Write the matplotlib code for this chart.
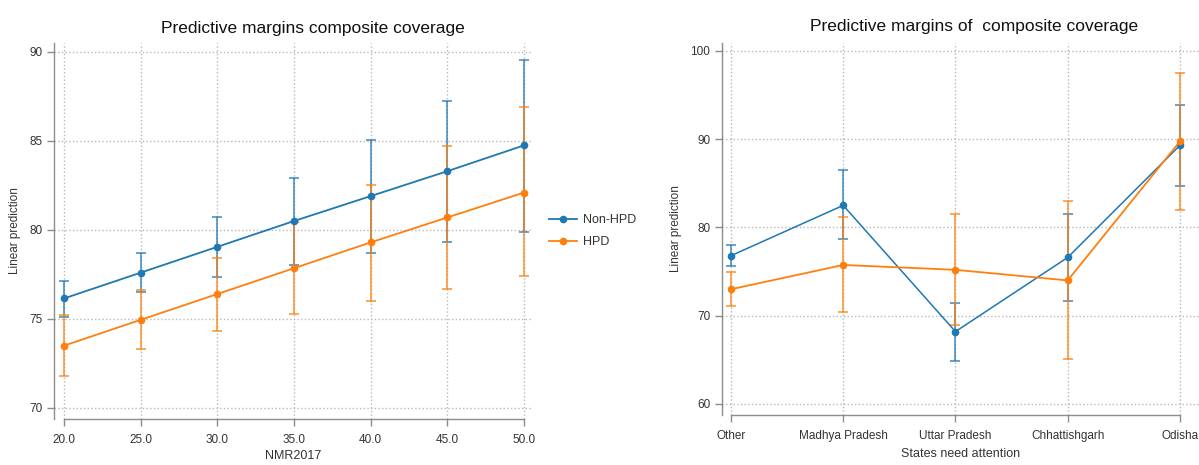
import numpy as np
from matplotlib import pyplot as plt

plt.rcParams['font.family'] = ['Liberation Sans Narrow', 'Liberation Sans', 'DejaVu Sans']

# left panel: margins over NMR2017
nmr = [20, 25, 30, 35, 40, 45, 50]
nmr_labels = ['20.0', '25.0', '30.0', '35.0', '40.0', '45.0', '50.0']
nonhpd_nmr = [76.15, 77.6, 79.05, 80.5, 81.9, 83.3, 84.75]
nonhpd_nmr_lo = [75.1, 76.5, 77.35, 78.05, 78.7, 79.3, 79.9]
nonhpd_nmr_hi = [77.15, 78.7, 80.7, 82.9, 85.05, 87.25, 89.55]
hpd_nmr = [73.5, 74.95, 76.4, 77.85, 79.3, 80.7, 82.1]
hpd_nmr_lo = [71.8, 73.3, 74.35, 75.25, 76.0, 76.7, 77.4]
hpd_nmr_hi = [75.2, 76.65, 78.45, 80.45, 82.5, 84.7, 86.9]

# right panel: margins over states
states = ['Other', 'Madhya Pradesh', 'Uttar Pradesh', 'Chhattishgarh', 'Odisha']
nonhpd_st = [76.8, 82.5, 68.2, 76.6, 89.3]
nonhpd_st_lo = [75.6, 78.7, 64.9, 71.65, 84.7]
nonhpd_st_hi = [78.0, 86.5, 71.4, 81.5, 93.9]
hpd_st = [73.0, 75.75, 75.2, 74.0, 89.75]
hpd_st_lo = [71.1, 70.4, 68.95, 65.1, 82.0]
hpd_st_hi = [74.9, 81.2, 81.5, 82.95, 97.55]

BLUE = '#1f77b4'
ORANGE = '#ff7f0e'
GRID = '#b8b8b8'
SPINE = '#8c8c8c'
TXT = '#333333'


def style_axes(ax):
    for s in ['top', 'right']:
        ax.spines[s].set_visible(False)
    for s in ['left', 'bottom']:
        ax.spines[s].set_color(SPINE)
        ax.spines[s].set_linewidth(1.0)
    ax.grid(True, linestyle=':', color=GRID, linewidth=1.0)
    ax.set_axisbelow(True)
    ax.tick_params(axis='both', colors=SPINE, labelcolor=TXT, labelsize=8.5,
                   length=5, width=1.0, direction='out')
    ax.tick_params(axis='x', pad=6)


def draw_series(ax, x, y, lo, hi, color, label, lw=1.3):
    y = np.array(y)
    err = [y - np.array(lo), np.array(hi) - y]
    ax.errorbar(x, y, yerr=err, fmt='none', ecolor=color, elinewidth=1.2,
                capsize=3.5, capthick=1.2, alpha=0.8, zorder=2)
    ax.plot(x, y, color=color, lw=lw, marker='o', markersize=4.5,
            label=label, zorder=3)


fig = plt.figure(figsize=(11.99, 4.65), dpi=100)

# ---- left panel
ax1 = fig.add_axes([54 / 1199, 1 - 419 / 465, (532 - 54) / 1199, (419 - 43) / 465])
style_axes(ax1)
draw_series(ax1, nmr, nonhpd_nmr, nonhpd_nmr_lo, nonhpd_nmr_hi, BLUE, 'Non-HPD')
draw_series(ax1, nmr, hpd_nmr, hpd_nmr_lo, hpd_nmr_hi, ORANGE, 'HPD')
ax1.set_xlim(19.35, 50.52)
ax1.set_ylim(69.38, 90.5)
ax1.set_xticks(nmr)
ax1.set_xticklabels(nmr_labels)
ax1.set_yticks([70, 75, 80, 85, 90])
ax1.spines['bottom'].set_bounds(20, 50)
ax1.set_xlabel('NMR2017', fontsize=9, color=TXT, labelpad=3)
ax1.set_ylabel('Linear prediction', fontsize=8.5, color=TXT, labelpad=6)
leg = ax1.legend(loc='center left', bbox_to_anchor=(538 / 1199, 1 - 231 / 465),
                 bbox_transform=fig.transFigure, frameon=False, fontsize=9,
                 handlelength=2.2, handletextpad=0.5, labelspacing=0.8)
for t in leg.get_texts():
    t.set_color(TXT)
fig.text(313 / 1199, 1 - 28 / 465, 'Predictive margins composite coverage',
         ha='center', va='center', fontsize=12.5, color='#111111')

# ---- right panel
xs = np.arange(len(states))
ax2 = fig.add_axes([722 / 1199, 1 - 415 / 465, (1199 - 722) / 1199, (415 - 43) / 465])
style_axes(ax2)
draw_series(ax2, xs, nonhpd_st, nonhpd_st_lo, nonhpd_st_hi, BLUE, 'Non-HPD', lw=1.1)
draw_series(ax2, xs, hpd_st, hpd_st_lo, hpd_st_hi, ORANGE, 'HPD', lw=1.3)
ax2.set_xlim(-0.08, 4.17)
ax2.set_ylim(58.75, 100.9)
ax2.set_xticks(xs)
ax2.set_xticklabels(states)
ax2.set_yticks([60, 70, 80, 90, 100])
ax2.spines['bottom'].set_bounds(0, 4)
ax2.set_xlabel('States need attention', fontsize=9, color=TXT, labelpad=4)
ax2.set_ylabel('Linear prediction', fontsize=8.5, color=TXT, labelpad=6)
fig.text(974 / 1199, 1 - 26 / 465, 'Predictive margins of  composite coverage',
         ha='center', va='center', fontsize=12.5, color='#111111')

fig.savefig('out.png', dpi=100)
